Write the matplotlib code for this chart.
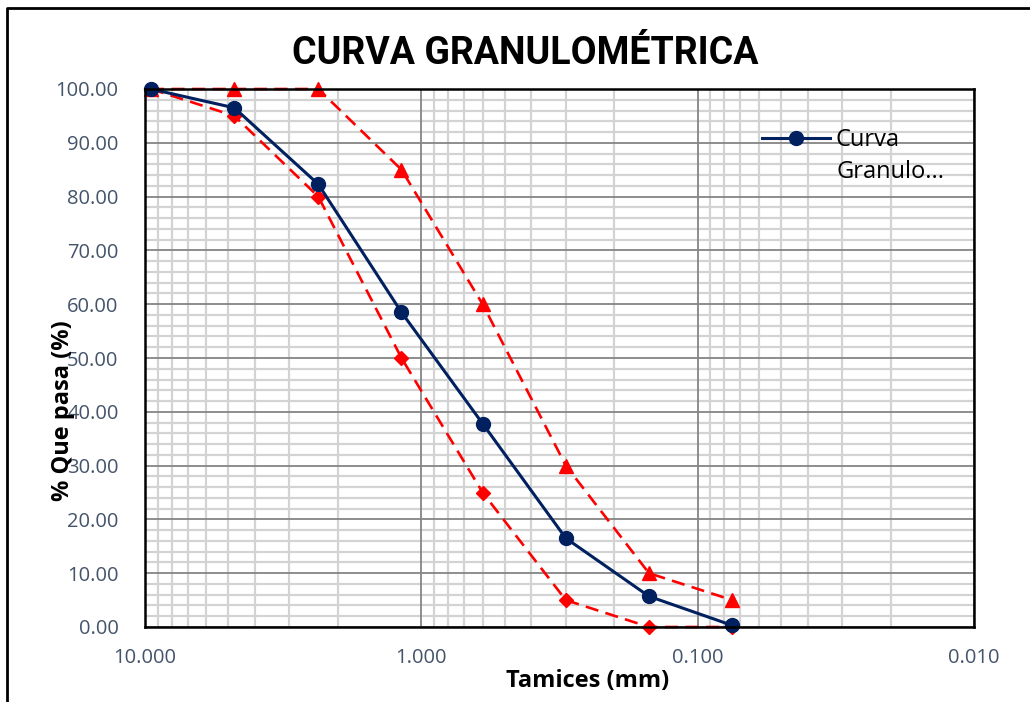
import matplotlib
matplotlib.use("Agg")
import matplotlib.pyplot as plt
from matplotlib.ticker import FixedLocator, FuncFormatter, MultipleLocator, NullFormatter
from matplotlib.lines import Line2D

# Data
tamices_mm = [9.525, 4.75, 2.36, 1.18, 0.6, 0.3, 0.15, 0.075]
curva_granulo = [100.0, 96.5, 82.3, 58.5, 37.8, 16.5, 5.7, 0.3]
limite_superior = [100, 100, 100, 85, 60, 30, 10, 5]
limite_inferior = [100, 95, 80, 50, 25, 5, 0, 0]
x_ticks = [10, 1, 0.1, 0.01]
y_ticks = [0, 10, 20, 30, 40, 50, 60, 70, 80, 90, 100]

TICK_COLOR = "#44546A"
font_main = ["Open Sans", "DejaVu Sans"]
W, H = 1030, 702

fig = plt.figure(figsize=(W/100, H/100), dpi=100)
ax = fig.add_axes([145/W, (H-627)/H, (974-145)/W, (627-89)/H])

ax.set_xscale("log")
ax.set_xlim(10, 0.01)
ax.set_ylim(0, 100)

# ticks & grid
minor_x = [m * 10.0**e for e in (-2, -1, 0) for m in range(2, 10)]
ax.xaxis.set_major_locator(FixedLocator(x_ticks))
ax.xaxis.set_minor_locator(FixedLocator(minor_x))
ax.xaxis.set_minor_formatter(NullFormatter())
ax.xaxis.set_major_formatter(FuncFormatter(lambda v, p: f"{v:.3f}"))
ax.yaxis.set_major_locator(FixedLocator(y_ticks))
ax.yaxis.set_minor_locator(MultipleLocator(2))
ax.yaxis.set_major_formatter(FuncFormatter(lambda v, p: f"{v:.2f}"))

ax.grid(which="minor", color="#d3d3d3", linewidth=1.6)
ax.set_axisbelow(True)
for xv in x_ticks:
    ax.axvline(xv, color="#858585", linewidth=1.3, zorder=1)
for yv in y_ticks:
    ax.axhline(yv, color="#858585", linewidth=1.3, zorder=1)

ax.tick_params(which="both", length=0)
ax.tick_params(axis="y", pad=19, labelsize=14.5, labelcolor=TICK_COLOR)
ax.tick_params(axis="x", pad=15, labelsize=14.5, labelcolor=TICK_COLOR)
for lab in ax.get_xticklabels() + ax.get_yticklabels():
    lab.set_family(font_main)

for s in ax.spines.values():
    s.set_color("black")
    s.set_linewidth(1.8)
    s.set_zorder(5)

dash = (0, (5, 2.8))
ax.plot(tamices_mm, limite_superior, color="#FF0000", linestyle=dash, linewidth=1.9,
        marker="^", markersize=9.5, clip_on=False, zorder=3)
ax.plot(tamices_mm, limite_inferior, color="#FF0000", linestyle=dash, linewidth=1.9,
        marker="D", markersize=7.5, clip_on=False, zorder=3)
ax.plot(tamices_mm, curva_granulo, color="#002060", linewidth=2.2,
        marker="o", markersize=10, clip_on=False, zorder=4, label="Curva")

leg_fs = 17
leg = ax.legend(loc="center left", bbox_to_anchor=(762/W, 1 - 140/H),
                bbox_transform=fig.transFigure, frameon=False,
                prop={"family": font_main, "size": leg_fs}, handlelength=2.9,
                handletextpad=0.22, borderpad=0, borderaxespad=0)
fig.text(836/W, 1 - 172/H, "Granulo...", fontsize=leg_fs, family=font_main,
         ha="left", va="center", color="black")

fig.text(525/W, 1 - 54/H, "CURVA GRANULOMÉTRICA", fontsize=27, fontweight="bold",
         family=["Roboto", "DejaVu Sans"], ha="center", va="center")
ax.set_xlabel("Tamices (mm)", fontsize=17, fontweight="bold", family=font_main, va="center")
ax.set_ylabel("% Que pasa (%)", fontsize=17, fontweight="bold", family=font_main, va="center")
ax.xaxis.set_label_coords((587.5-145)/829, (627-681)/538)
ax.yaxis.set_label_coords((63-145)/829, (627-411)/538)
ax.yaxis.label.set_zorder(6)

# outer frame lines
fig.add_artist(Line2D([7/W, 7/W, 1.0], [0, 1 - 8/H, 1 - 8/H],
                      transform=fig.transFigure, color="black", linewidth=2))

fig.savefig("out.png", dpi=100)
